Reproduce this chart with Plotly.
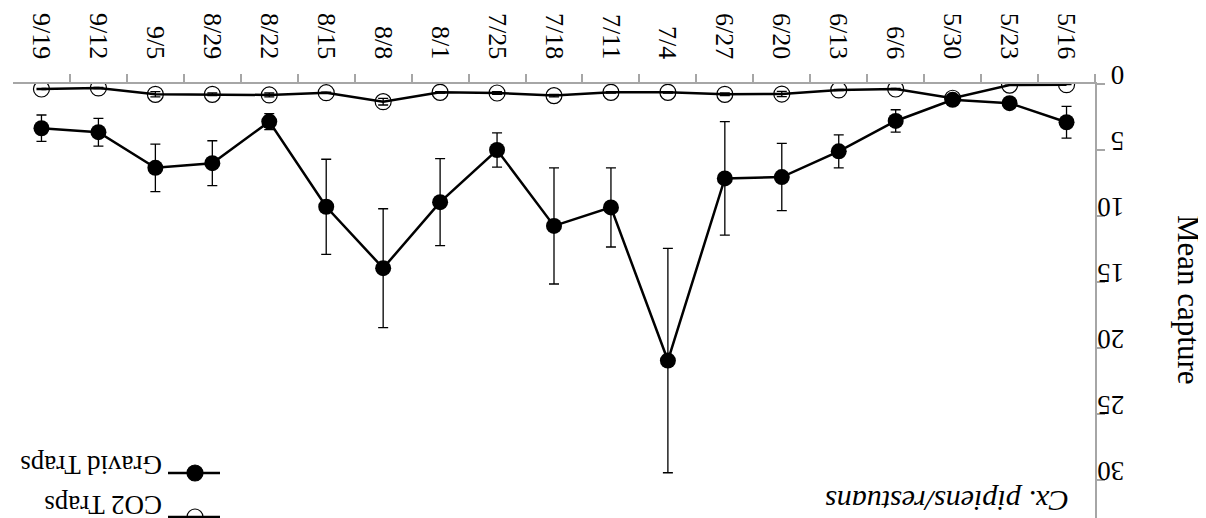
import plotly.graph_objects as go

dates = ["5/16", "5/23", "5/30", "6/6", "6/13", "6/20", "6/27", "7/4", "7/11", "7/18",
         "7/25", "8/1", "8/8", "8/15", "8/22", "8/29", "9/5", "9/12", "9/19"]
gravid = [2.9, 1.45, 1.2, 2.8, 5.1, 7.05, 7.15, 20.95, 9.35, 10.75,
          5.0, 8.95, 13.95, 9.3, 2.85, 6.0, 6.35, 3.65, 3.35]
gravid_err = [1.2, 0.35, 0.2, 0.85, 1.25, 2.55, 4.3, 8.5, 3.0, 4.4,
              1.3, 3.3, 4.5, 3.6, 0.6, 1.7, 1.8, 1.05, 1.0]
co2 = [0.05, 0.08, 1.08, 0.38, 0.45, 0.76, 0.78, 0.63, 0.63, 0.88,
       0.68, 0.63, 1.34, 0.66, 0.83, 0.78, 0.78, 0.3, 0.38]
co2_err = [0.0, 0.0, 0.1, 0.05, 0.05, 0.2, 0.1, 0.05, 0.05, 0.1,
           0.1, 0.05, 0.25, 0.05, 0.15, 0.1, 0.2, 0.05, 0.05]
y_ticks = [0, 5, 10, 15, 20, 25, 30]

W, H = 1206, 518
L, R, T, B = 5, 119, 76, 0
PW, PH = W - L - R, H - T - B
FONT = "Liberation Serif"
AX = "#a6a6a6"


def px(x):
    return (x - L) / PW


def py(y):
    return (H - B - y) / PH


fig = go.Figure()
fig.add_trace(go.Scatter(
    x=dates, y=co2, mode="lines+markers", name="CO2 Traps",
    line=dict(color="black", width=2.5),
    marker=dict(symbol="circle-open", size=16, color="black", line=dict(width=1.2)),
    error_y=dict(type="data", array=co2_err, color="black", thickness=1.3, width=5),
))
fig.add_trace(go.Scatter(
    x=dates, y=gravid, mode="lines+markers", name="Gravid Traps",
    line=dict(color="black", width=2.5),
    marker=dict(symbol="circle", size=16, color="black"),
    error_y=dict(type="data", array=gravid_err, color="black", thickness=1.3, width=5),
))

fig.update_layout(
    width=W, height=H,
    margin=dict(l=L, r=R, t=T, b=B, autoexpand=False),
    paper_bgcolor="white", plot_bgcolor="white",
    showlegend=False,
    font=dict(family=FONT, color="black", size=26),
    xaxis=dict(
        type="category", range=[len(dates) - 0.5, -0.5], side="top",
        tickson="boundaries", ticks="outside", ticklen=8, tickcolor=AX, tickwidth=1.5,
        showline=True, linecolor=AX, linewidth=1.5, showgrid=False, zeroline=False,
        tickangle=90, tickfont=dict(family=FONT, size=26, color="black"),
        automargin=False, ticklabelstandoff=14,
    ),
    yaxis=dict(
        range=[PH / 13.2, 0], side="right",
        tickvals=y_ticks, ticktext=[str(v) for v in y_ticks],
        ticks="outside", ticklen=8, tickcolor=AX, tickwidth=1.5,
        showline=True, linecolor=AX, linewidth=1.5, showgrid=False, zeroline=False,
        tickangle=180, tickfont=dict(family=FONT, size=27, color="black"),
        automargin=False, ticklabelstandoff=14,
    ),
)

annotations = [
    dict(text="Mean capture", x=px(1181), y=py(292), xref="paper", yref="paper",
         xanchor="center", yanchor="middle",
         showarrow=False, textangle=90, font=dict(family=FONT, size=31, color="black")),
    dict(text="<i>Cx. pipiens/restuans</i>", x=px(1063), y=py(494), xref="paper", yref="paper",
         xanchor="right", yanchor="middle",
         showarrow=False, textangle=180, font=dict(family=FONT, size=30, color="black")),
    dict(text="Gravid Traps", x=px(156), y=py(457), xref="paper", yref="paper",
         xanchor="right", yanchor="middle", showarrow=False, textangle=180,
         font=dict(family=FONT, size=27, color="black")),
    dict(text="CO2 Traps", x=px(156), y=py(497), xref="paper", yref="paper",
         xanchor="right", yanchor="middle", showarrow=False, textangle=180,
         font=dict(family=FONT, size=27, color="black")),
]
fig.update_layout(annotations=annotations)

shapes = []
for yy, filled in [(465, True), (509, False)]:
    shapes.append(dict(type="line", xref="paper", yref="paper",
                       x0=px(160), x1=px(212), y0=py(yy), y1=py(yy),
                       line=dict(color="black", width=2.5)))
    shapes.append(dict(type="circle", xref="paper", yref="paper",
                       xsizemode="pixel", ysizemode="pixel",
                       xanchor=px(187), yanchor=py(yy), x0=-8, x1=8, y0=-8, y1=8,
                       fillcolor="black" if filled else "rgba(0,0,0,0)",
                       line=dict(color="black", width=1.2)))
fig.update_layout(shapes=shapes)

fig.write_html("out.html")
